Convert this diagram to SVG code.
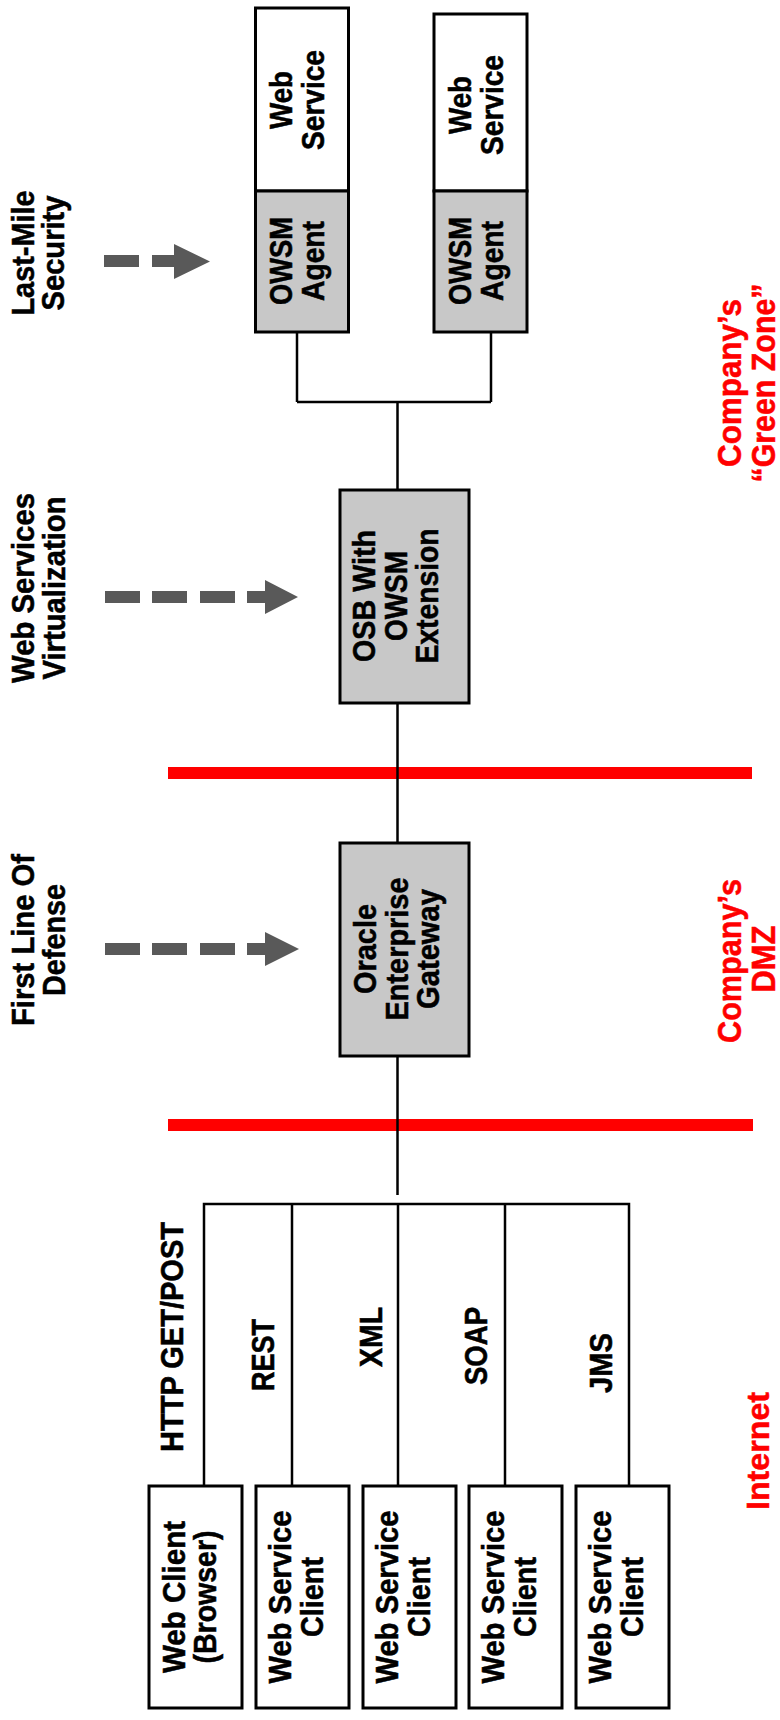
<svg xmlns="http://www.w3.org/2000/svg" width="780" height="1720" viewBox="0 0 780 1720">
<style>
.box{stroke:#000;stroke-width:3}
.w{fill:#fff}
.g{fill:#c8c8c8}
.t{font-family:"Liberation Sans",Arial,Helvetica,sans-serif;font-weight:bold;text-anchor:middle;fill:#000;stroke:#000;stroke-width:0.5}
.r{fill:#ff0000;stroke:#ff0000}
.conn{fill:none;stroke:#000;stroke-width:2.5}
.arrow{fill:#595959}
.zone{fill:#ff0000}
</style>
<rect width="780" height="1720" fill="#fff"/>

<!-- zone dividers -->
<g id="zones">
<rect class="zone" x="168" y="767" width="584" height="12"/>
<rect class="zone" x="168" y="1119" width="585" height="12"/>
</g>

<!-- side labels -->
<g id="label-last-mile">
<text class="t" font-size="29" textLength="125" lengthAdjust="spacingAndGlyphs" transform="translate(34,253) rotate(-90) scale(1,1.05)">Last-Mile</text>
<text class="t" font-size="29" textLength="115" lengthAdjust="spacingAndGlyphs" transform="translate(64,253) rotate(-90) scale(1,1.05)">Security</text>
<path class="arrow" d="M104,255 H139 V267 H104 Z M152,255 H174 V244 L210,261.5 L174,279 V267 H152 Z"/>
</g>
<g id="label-virtualization">
<text class="t" font-size="29" textLength="190" lengthAdjust="spacingAndGlyphs" transform="translate(34,588) rotate(-90) scale(1,1.05)">Web Services</text>
<text class="t" font-size="29" textLength="183" lengthAdjust="spacingAndGlyphs" transform="translate(65,588) rotate(-90) scale(1,1.05)">Virtualization</text>
<path class="arrow" d="M105,591 H140 V603 H105 Z M152,591 H187 V603 H152 Z M200,591 H235 V603 H200 Z M247,591 H265 V580 L298,597 L265,614 V603 H247 Z"/>
</g>
<g id="label-first-line">
<text class="t" font-size="29" textLength="172" lengthAdjust="spacingAndGlyphs" transform="translate(34,940) rotate(-90) scale(1,1.05)">First Line Of</text>
<text class="t" font-size="29" textLength="112" lengthAdjust="spacingAndGlyphs" transform="translate(65,940) rotate(-90) scale(1,1.05)">Defense</text>
<path class="arrow" d="M105,943 H140 V955 H105 Z M152,943 H187 V955 H152 Z M200,943 H235 V955 H200 Z M247,943 H265 V932 L299,949 L265,966 V955 H247 Z"/>
</g>

<g id="label-green-zone">
<text class="t r" font-size="31" textLength="168" lengthAdjust="spacingAndGlyphs" transform="translate(741,383) rotate(-90) scale(1,1.05)">Company’s</text>
<text class="t r" font-size="31" textLength="199" lengthAdjust="spacingAndGlyphs" transform="translate(775,383) rotate(-90) scale(1,1.05)">“Green Zone”</text>
</g>
<g id="label-dmz">
<text class="t r" font-size="31" textLength="164" lengthAdjust="spacingAndGlyphs" transform="translate(741,961) rotate(-90) scale(1,1.05)">Company’s</text>
<text class="t r" font-size="31" textLength="67" lengthAdjust="spacingAndGlyphs" transform="translate(775,959) rotate(-90) scale(1,1.05)">DMZ</text>
</g>
<g id="label-internet">
<text class="t r" font-size="32" textLength="118" lengthAdjust="spacingAndGlyphs" transform="translate(769,1451) rotate(-90)">Internet</text>
</g>

<!-- connectors -->
<g id="connectors">
<path class="conn" d="M297,332 V402 M491,332 V402 M297,402 H491 M397.5,402 V490 M397.5,703 V843 M397.5,1056 V1195"/>
<path class="conn" d="M204,1486 V1204 H629 V1486 M292,1204 V1486 M398,1204 V1486 M505,1204 V1486"/>
</g>

<!-- top services -->
<g id="web-service-1">
<rect class="box w" x="255.5" y="8" width="93" height="183"/>
<text class="t" font-size="28.5" textLength="58" lengthAdjust="spacingAndGlyphs" transform="translate(292,100) rotate(-90) scale(1,1.1)">Web</text>
<text class="t" font-size="28.5" textLength="100" lengthAdjust="spacingAndGlyphs" transform="translate(324,100) rotate(-90) scale(1,1.1)">Service</text>
</g>
<g id="owsm-agent-1">
<rect class="box g" x="255.5" y="191" width="93" height="141"/>
<text class="t" font-size="28.5" textLength="88" lengthAdjust="spacingAndGlyphs" transform="translate(292,261) rotate(-90) scale(1,1.1)">OWSM</text>
<text class="t" font-size="28.5" textLength="80" lengthAdjust="spacingAndGlyphs" transform="translate(324,261) rotate(-90) scale(1,1.1)">Agent</text>
</g>
<g id="web-service-2">
<rect class="box w" x="434" y="14" width="93" height="177"/>
<text class="t" font-size="28.5" textLength="58" lengthAdjust="spacingAndGlyphs" transform="translate(471,105) rotate(-90) scale(1,1.1)">Web</text>
<text class="t" font-size="28.5" textLength="100" lengthAdjust="spacingAndGlyphs" transform="translate(503,105) rotate(-90) scale(1,1.1)">Service</text>
</g>
<g id="owsm-agent-2">
<rect class="box g" x="434" y="191" width="93" height="141"/>
<text class="t" font-size="28.5" textLength="88" lengthAdjust="spacingAndGlyphs" transform="translate(471,261) rotate(-90) scale(1,1.1)">OWSM</text>
<text class="t" font-size="28.5" textLength="80" lengthAdjust="spacingAndGlyphs" transform="translate(503,261) rotate(-90) scale(1,1.1)">Agent</text>
</g>

<g id="osb">
<rect class="box g" x="340" y="490" width="129" height="213"/>
<text class="t" font-size="28.5" textLength="132" lengthAdjust="spacingAndGlyphs" transform="translate(375,596) rotate(-90) scale(1,1.08)">OSB With</text>
<text class="t" font-size="28.5" textLength="90" lengthAdjust="spacingAndGlyphs" transform="translate(407,596) rotate(-90) scale(1,1.08)">OWSM</text>
<text class="t" font-size="28.5" textLength="135" lengthAdjust="spacingAndGlyphs" transform="translate(438,596) rotate(-90) scale(1,1.08)">Extension</text>
</g>

<g id="gateway">
<rect class="box g" x="340" y="843" width="129" height="213"/>
<text class="t" font-size="28.5" textLength="90" lengthAdjust="spacingAndGlyphs" transform="translate(376,949) rotate(-90) scale(1,1.08)">Oracle</text>
<text class="t" font-size="28.5" textLength="143" lengthAdjust="spacingAndGlyphs" transform="translate(408,949) rotate(-90) scale(1,1.08)">Enterprise</text>
<text class="t" font-size="28.5" textLength="120" lengthAdjust="spacingAndGlyphs" transform="translate(439,949) rotate(-90) scale(1,1.08)">Gateway</text>
</g>

<!-- protocol labels -->
<g id="protocols">
<text class="t" font-size="27.5" textLength="230" lengthAdjust="spacingAndGlyphs" transform="translate(183,1337) rotate(-90) scale(1,1.12)">HTTP GET/POST</text>
<text class="t" font-size="27.5" textLength="72" lengthAdjust="spacingAndGlyphs" transform="translate(274,1355) rotate(-90) scale(1,1.12)">REST</text>
<text class="t" font-size="27.5" textLength="60" lengthAdjust="spacingAndGlyphs" transform="translate(382,1337) rotate(-90) scale(1,1.12)">XML</text>
<text class="t" font-size="27.5" textLength="78" lengthAdjust="spacingAndGlyphs" transform="translate(487,1346) rotate(-90) scale(1,1.12)">SOAP</text>
<text class="t" font-size="27.5" textLength="60" lengthAdjust="spacingAndGlyphs" transform="translate(612,1363) rotate(-90) scale(1,1.12)">JMS</text>
</g>

<!-- clients -->
<g id="client-browser">
<rect class="box w" x="149" y="1486" width="93" height="222"/>
<text class="t" font-size="29" textLength="152" lengthAdjust="spacingAndGlyphs" transform="translate(185,1597) rotate(-90) scale(1,1.06)">Web Client</text>
<text class="t" font-size="29" textLength="133" lengthAdjust="spacingAndGlyphs" transform="translate(216,1597) rotate(-90) scale(1,1.06)">(Browser)</text>
</g>
<g id="client-rest">
<rect class="box w" x="256" y="1486" width="93" height="222"/>
<text class="t" font-size="29" textLength="173" lengthAdjust="spacingAndGlyphs" transform="translate(291,1597) rotate(-90) scale(1,1.06)">Web Service</text>
<text class="t" font-size="29" textLength="80" lengthAdjust="spacingAndGlyphs" transform="translate(323,1597) rotate(-90) scale(1,1.06)">Client</text>
</g>
<g id="client-xml">
<rect class="box w" x="363" y="1486" width="93" height="222"/>
<text class="t" font-size="29" textLength="173" lengthAdjust="spacingAndGlyphs" transform="translate(398,1597) rotate(-90) scale(1,1.06)">Web Service</text>
<text class="t" font-size="29" textLength="80" lengthAdjust="spacingAndGlyphs" transform="translate(430,1597) rotate(-90) scale(1,1.06)">Client</text>
</g>
<g id="client-soap">
<rect class="box w" x="469" y="1486" width="93" height="222"/>
<text class="t" font-size="29" textLength="173" lengthAdjust="spacingAndGlyphs" transform="translate(504,1597) rotate(-90) scale(1,1.06)">Web Service</text>
<text class="t" font-size="29" textLength="80" lengthAdjust="spacingAndGlyphs" transform="translate(536,1597) rotate(-90) scale(1,1.06)">Client</text>
</g>
<g id="client-jms">
<rect class="box w" x="576" y="1486" width="93" height="222"/>
<text class="t" font-size="29" textLength="173" lengthAdjust="spacingAndGlyphs" transform="translate(611,1597) rotate(-90) scale(1,1.06)">Web Service</text>
<text class="t" font-size="29" textLength="80" lengthAdjust="spacingAndGlyphs" transform="translate(643,1597) rotate(-90) scale(1,1.06)">Client</text>
</g>
</svg>
